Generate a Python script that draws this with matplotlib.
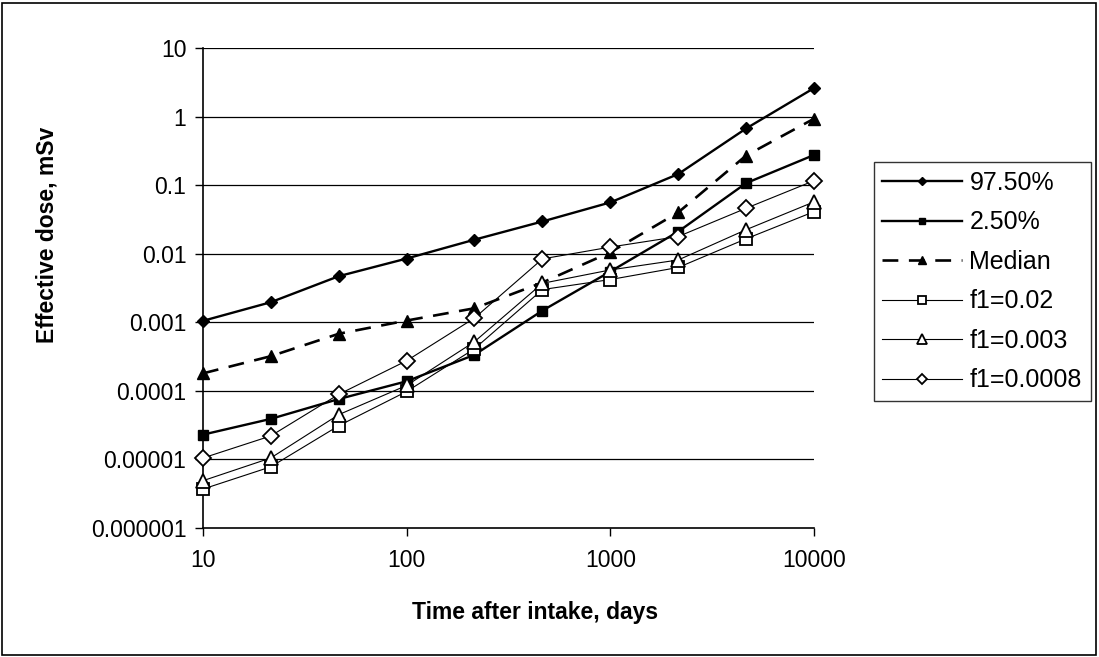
import matplotlib
matplotlib.use("Agg")
import matplotlib.pyplot as plt
from matplotlib.patches import Rectangle
from matplotlib.ticker import FixedLocator, NullLocator, FixedFormatter

plt.rcParams['font.family'] = ['Liberation Sans', 'DejaVu Sans']

days = [10, 21.5, 46.4, 100, 215, 464, 1000, 2154, 4642, 10000]
p975 = [0.00105, 0.00196, 0.0047, 0.0085, 0.016, 0.0295, 0.056, 0.145, 0.67, 2.6]
p025 = [2.3e-5, 3.9e-5, 7.6e-5, 1.38e-4, 3.35e-4, 0.00148, 0.0055, 0.021, 0.107, 0.275]
median = [0.00018, 0.00032, 0.00068, 0.00106, 0.0016, 0.0038, 0.0105, 0.040, 0.27, 0.93]
f1_002 = [3.7e-6, 7.8e-6, 3.1e-5, 9.8e-5, 4.1e-4, 0.0030, 0.0042, 0.0063, 0.0165, 0.041]
f1_0003 = [4.9e-6, 1.05e-5, 4.5e-5, 1.2e-4, 5.2e-4, 0.0037, 0.0058, 0.0081, 0.0224, 0.057]
f1_00008 = [1.05e-5, 2.2e-5, 8.9e-5, 2.75e-4, 1.15e-3, 0.0084, 0.0125, 0.0178, 0.046, 0.116]

ytick_vals = [1e-6, 1e-5, 1e-4, 1e-3, 1e-2, 1e-1, 1, 10]
ytick_labels = ["0.000001", "0.00001", "0.0001", "0.001", "0.01", "0.1", "1", "10"]
xtick_vals = [10, 100, 1000, 10000]
xtick_labels = ["10", "100", "1000", "10000"]

fig = plt.figure(figsize=(10.99, 6.57), dpi=100)
ax = fig.add_axes([0.1847, 0.1963, 0.7407 - 0.1847, 0.927 - 0.1963])

ax.set_xscale('log')
ax.set_yscale('log')
ax.set_xlim(10, 10000)
ax.set_ylim(1e-6, 10)

for v in ytick_vals[1:]:
    ax.axhline(v, color='black', lw=0.9, zorder=1)

k = dict(color='black', clip_on=False, zorder=3)
ax.plot(days, p975, marker='D', ms=6.5, lw=1.7, label='97.50%', **k)
ax.plot(days, p025, marker='s', ms=6.5, lw=1.7, label='2.50%', **k)
ax.plot(days, median, marker='^', ms=8.5, lw=1.9, ls=(0, (6, 4)), label='Median', **k)
ax.plot(days, f1_002, marker='s', ms=9, mfc='white', mew=1.3, lw=0.8, label='f1=0.02', **k)
ax.plot(days, f1_0003, marker='^', ms=10, mfc='white', mew=1.3, lw=0.8, label='f1=0.003', **k)
ax.plot(days, f1_00008, marker='D', ms=8, mfc='white', mew=1.3, lw=0.8, label='f1=0.0008', **k)

ax.yaxis.set_major_locator(FixedLocator(ytick_vals))
ax.yaxis.set_major_formatter(FixedFormatter(ytick_labels))
ax.yaxis.set_minor_locator(NullLocator())
ax.xaxis.set_major_locator(FixedLocator(xtick_vals))
ax.xaxis.set_major_formatter(FixedFormatter(xtick_labels))
ax.xaxis.set_minor_locator(NullLocator())
ax.tick_params(axis='both', direction='out', length=6, width=1, labelsize=16.5, color='black')
ax.tick_params(axis='x', pad=9)
ax.tick_params(axis='y', pad=6)

for s in ['top', 'right']:
    ax.spines[s].set_visible(False)
for s in ['left', 'bottom']:
    ax.spines[s].set_linewidth(1.2)
    ax.spines[s].set_color('black')

ax.set_xlabel('Time after intake, days', fontsize=16.5, fontweight='bold')
ax.set_ylabel('Effective dose, mSv', fontsize=16.5, fontweight='bold')
ax.xaxis.set_label_coords(0.543, -0.152)
ax.yaxis.set_label_coords(-0.236, 0.61)

leg = fig.legend(loc='upper left', bbox_to_anchor=(0.795, 0.7534), fontsize=18,
                 frameon=True, fancybox=False, edgecolor='black', handlelength=3.2,
                 labelspacing=0.62, borderpad=0.35, borderaxespad=0, handletextpad=0.28,
                 markerscale=0.7)
leg.get_frame().set_linewidth(1.0)

fig.patches.append(Rectangle((0.002, 0.003), 0.995, 0.993, transform=fig.transFigure,
                             fill=False, edgecolor='black', lw=1.2))

fig.savefig('out.png', dpi=100)
